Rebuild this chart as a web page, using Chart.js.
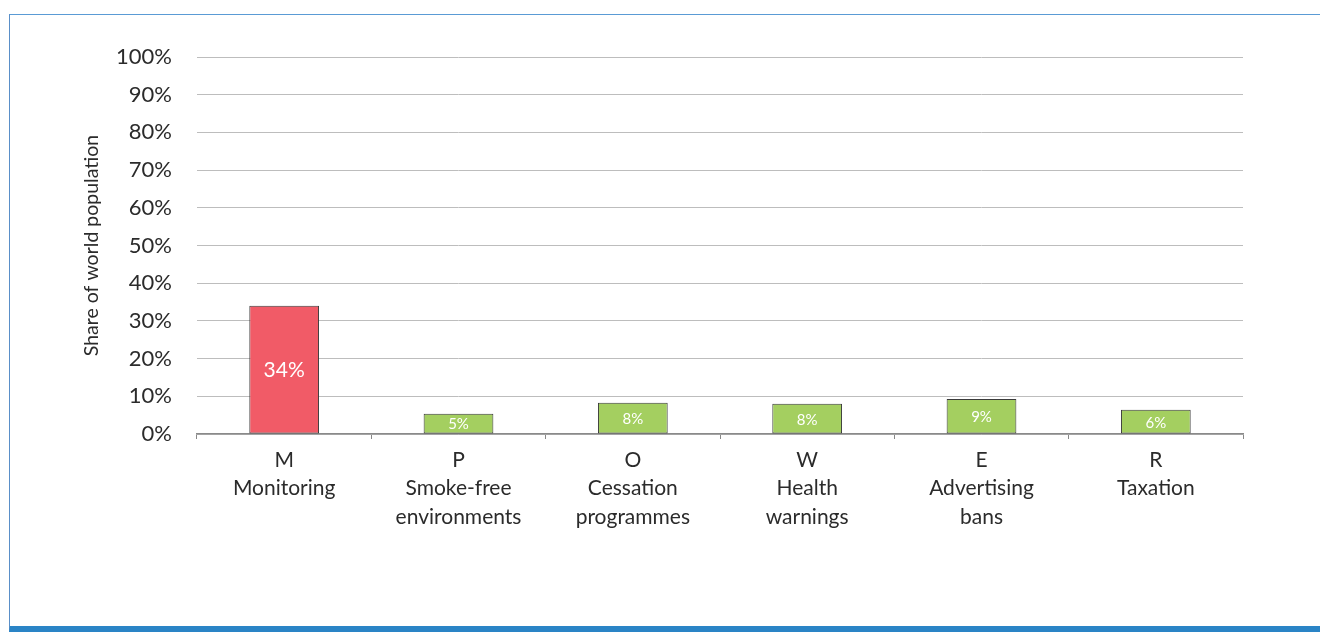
<!DOCTYPE html>
<html>
<head>
<meta charset="utf-8">
<script src="https://cdn.jsdelivr.net/npm/chart.js@4.4.1/dist/chart.umd.min.js"></script>
<style>
    html, body { margin: 0; padding: 0; background: #fff; }
    #wrap { position: relative; width: 1320px; height: 632px; overflow: hidden; }
    #frame {
        position: absolute; left: 9px; top: 14px; right: -2px; bottom: 0;
        border-top: 1.5px solid #5a9bd5; border-left: 1px solid #5a8fc8;
        border-bottom: 6px solid #2a84c6;
    }
    #chart { position: absolute; left: 0; top: 0; }
</style>
</head>
<body>
<div id="wrap">
    <div id="frame"></div>
    <canvas id="chart" width="1320" height="632"></canvas>
</div>
<script>
// MPOWER measures - share of world population covered
const categories = [
    ['M', 'Monitoring'],
    ['P', 'Smoke-free', 'environments'],
    ['O', 'Cessation', 'programmes'],
    ['W', 'Health', 'warnings'],
    ['E', 'Advertising', 'bans'],
    ['R', 'Taxation']
];
const shareValues = [34.0, 5.4, 8.3, 8.0, 9.3, 6.4];
const barColors = ['#f15b67', '#a4cf60', '#a4cf60', '#a4cf60', '#a4cf60', '#a4cf60'];
const yTicks = [0, 10, 20, 30, 40, 50, 60, 70, 80, 90, 100];

const FONT = 'Lato, "Open Sans", sans-serif';
const TEXT = '#2b2b2b';

// white value labels in the middle of each bar
const barLabels = {
    id: 'barLabels',
    afterDatasetsDraw(chart) {
        const ctx = chart.ctx;
        const meta = chart.getDatasetMeta(0);
        ctx.save();
        ctx.fillStyle = '#fff';
        ctx.textAlign = 'center';
        ctx.textBaseline = 'middle';
        meta.data.forEach((bar, i) => {
            const h = bar.base - bar.y;
            ctx.font = (h > 40 ? 21 : 15) + 'px ' + FONT;
            ctx.fillText(Math.round(shareValues[i]) + '%', bar.x, (bar.y + bar.base) / 2 + 1);
        });
        ctx.restore();
    }
};

new Chart(document.getElementById('chart'), {
    type: 'bar',
    data: {
        labels: categories,
        datasets: [{
            data: shareValues,
            backgroundColor: barColors,
            borderColor: '#3a3a3a',
            borderWidth: 1,
            borderSkipped: false,
            categoryPercentage: 1,
            barPercentage: 0.4
        }]
    },
    options: {
        responsive: false,
        animation: false,
        layout: { padding: { top: 57, right: 77, left: 0, bottom: 0 } },
        plugins: {
            legend: { display: false },
            tooltip: { enabled: false }
        },
        scales: {
            x: {
                afterFit: s => { s.height = 198; },
                grid: {
                    drawOnChartArea: false,
                    drawTicks: true,
                    tickLength: 5,
                    color: '#888'
                },
                border: { display: true, color: '#8a8a8a', width: 1.5 },
                ticks: {
                    color: TEXT,
                    padding: 7,
                    maxRotation: 0,
                    autoSkip: false,
                    font: { family: FONT, size: 21, lineHeight: 1.35 }
                }
            },
            y: {
                min: 0,
                max: 100,
                afterFit: s => { s.width = 197; },
                afterBuildTicks: s => { s.ticks = yTicks.map(v => ({ value: v })); },
                grid: { color: '#bdbdbd', lineWidth: 1, drawTicks: false },
                border: { display: false },
                ticks: {
                    color: TEXT,
                    padding: 25,
                    font: { family: FONT, size: 22 },
                    callback: v => v + '%'
                },
                title: {
                    display: true,
                    text: 'Share of world population',
                    color: TEXT,
                    padding: { top: 80, bottom: 0 },
                    font: { family: FONT, size: 19.5 }
                }
            }
        }
    },
    plugins: [barLabels]
});
</script>
</body>
</html>
